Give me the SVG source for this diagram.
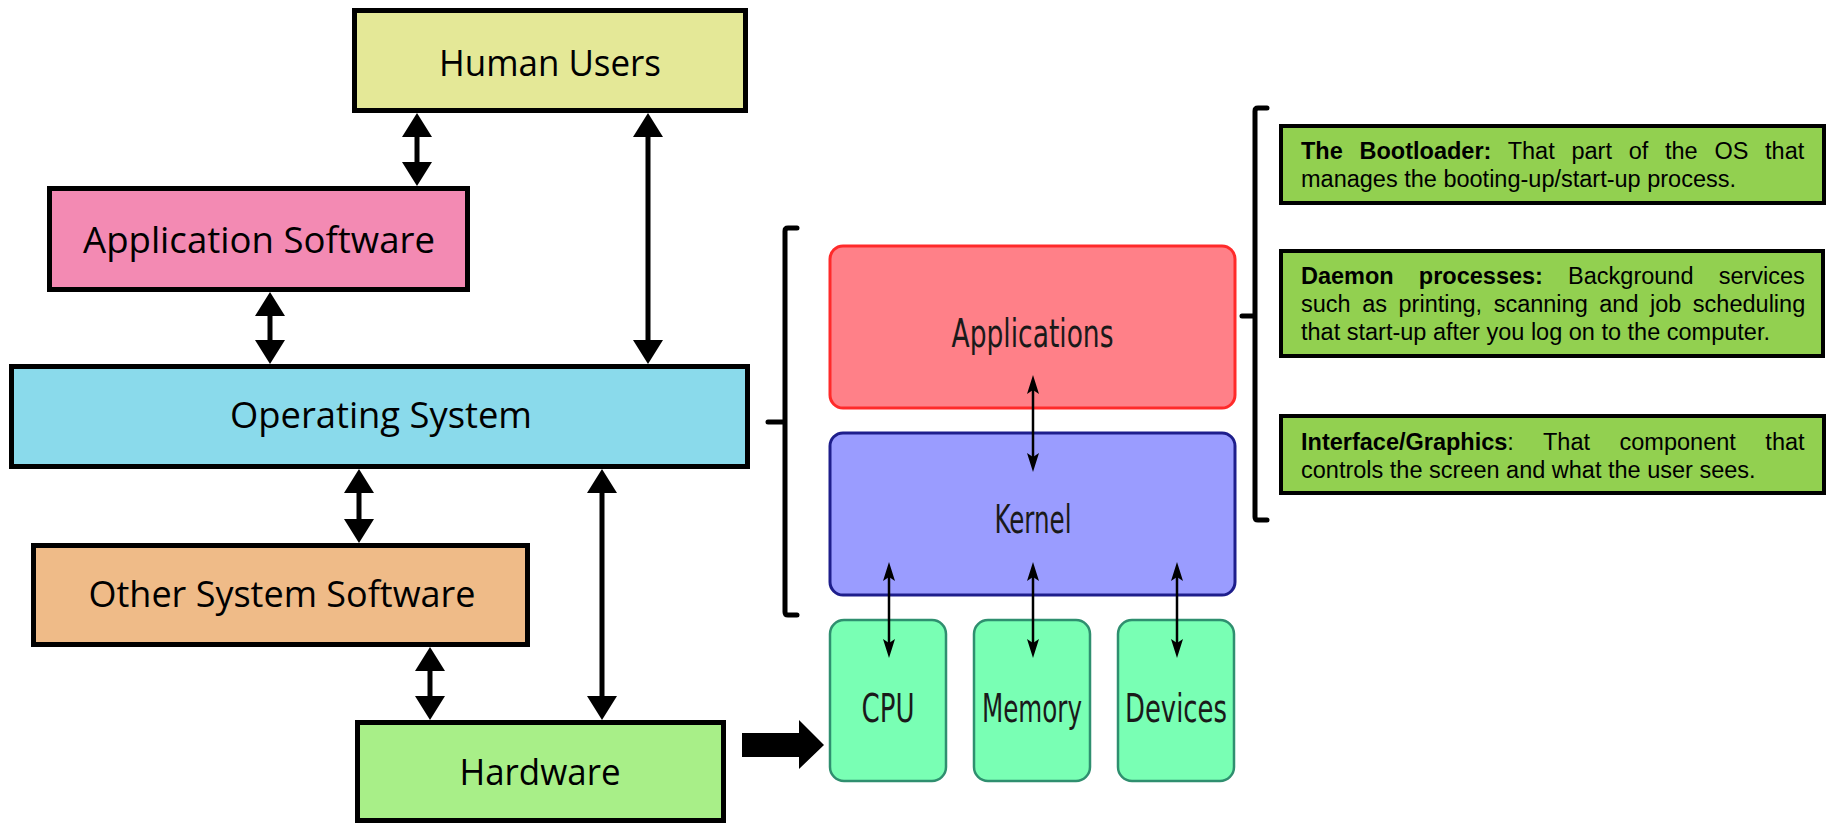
<svg xmlns="http://www.w3.org/2000/svg" width="1834" height="825" viewBox="0 0 1834 825">
  <style>
    .blk { stroke: #000; stroke-width: 5; }
    .lbl { font-family: "Open Sans", "Noto Sans", "Liberation Sans", sans-serif; font-size: 37px; fill: #000; text-anchor: middle; }
    .arrow { stroke: #000; stroke-width: 5; fill: none; marker-start: url(#headL); marker-end: url(#headL); }
    .thin { stroke: #000; stroke-width: 2.5; fill: none; marker-start: url(#headS); marker-end: url(#headS); }
    .layer { stroke-width: 3; }
    .lay { font-family: "DejaVu Sans Condensed", "DejaVu Sans", sans-serif; font-size: 39px; fill: #1a1a1a; text-anchor: middle; }
    .hw { fill: #79ffb4; stroke: #2f8f6f; stroke-width: 2.5; }
    .brace { stroke: #000; stroke-width: 5; fill: none; stroke-linecap: round; stroke-linejoin: round; }
    .note { fill: #92d050; stroke: #000; stroke-width: 4; }
    .nt { font-family: "Liberation Sans", Arial, sans-serif; font-size: 23.5px; fill: #000; }
    .b { font-weight: bold; }
  </style>
  <defs>
    <marker id="headL" viewBox="0 -15 24 30" refX="4" refY="0" markerWidth="24" markerHeight="30" markerUnits="userSpaceOnUse" orient="auto-start-reverse">
      <path d="M0,-15 L24,0 L0,15 z" fill="#000"/>
    </marker>
    <marker id="headS" viewBox="0 -6 19 12" refX="4" refY="0" markerWidth="19" markerHeight="12" markerUnits="userSpaceOnUse" orient="auto-start-reverse">
      <path d="M0,-6 L19,0 L0,6 L4,0 z" fill="#000"/>
    </marker>
  </defs>

  <!-- layered system view -->
  <g id="human-users">
    <rect class="blk" x="354.5" y="10.5" width="391" height="100" fill="#e4e897"/>
    <text class="lbl" x="550" y="76" textLength="222" lengthAdjust="spacingAndGlyphs">Human Users</text>
  </g>
  <g id="application-software">
    <rect class="blk" x="49.5" y="188.5" width="418" height="101" fill="#f38ab3"/>
    <text class="lbl" x="259" y="253" textLength="352" lengthAdjust="spacingAndGlyphs">Application Software</text>
  </g>
  <g id="operating-system">
    <rect class="blk" x="11.5" y="366.5" width="736" height="100" fill="#8adaeb"/>
    <text class="lbl" x="381" y="428" textLength="302" lengthAdjust="spacingAndGlyphs">Operating System</text>
  </g>
  <g id="other-system-software">
    <rect class="blk" x="33.5" y="545.5" width="494" height="99" fill="#efbb88"/>
    <text class="lbl" x="282" y="607" textLength="387" lengthAdjust="spacingAndGlyphs">Other System Software</text>
  </g>
  <g id="hardware">
    <rect class="blk" x="357.5" y="722.5" width="366" height="98" fill="#a8ef88"/>
    <text class="lbl" x="540" y="785" textLength="161" lengthAdjust="spacingAndGlyphs">Hardware</text>
  </g>

  <!-- component stack -->
  <g id="brace-left">
    <path class="brace" d="M797,228 L788,228 Q785,228 785,231 L785,612 Q785,615 788,615 L797,615 M768,422 L785,422"/>
  </g>
  <g id="applications">
    <rect class="layer" x="830" y="246" width="405" height="162" rx="13" fill="#ff8088" stroke="#ff2a2a"/>
    <text class="lay" x="1032.5" y="347" textLength="162" lengthAdjust="spacingAndGlyphs">Applications</text>
  </g>
  <g id="kernel">
    <rect class="layer" x="830" y="433" width="405" height="162" rx="13" fill="#9a9cff" stroke="#1e1e8c"/>
    <text class="lay" x="1033" y="533" textLength="77" lengthAdjust="spacingAndGlyphs">Kernel</text>
  </g>
  <g id="cpu">
    <rect class="hw" x="830" y="620" width="116" height="161" rx="14"/>
    <text class="lay" x="888" y="722" textLength="53" lengthAdjust="spacingAndGlyphs">CPU</text>
  </g>
  <g id="memory">
    <rect class="hw" x="974" y="620" width="116" height="161" rx="14"/>
    <text class="lay" x="1032" y="722" textLength="100" lengthAdjust="spacingAndGlyphs">Memory</text>
  </g>
  <g id="devices">
    <rect class="hw" x="1118" y="620" width="116" height="161" rx="14"/>
    <text class="lay" x="1176" y="722" textLength="102" lengthAdjust="spacingAndGlyphs">Devices</text>
  </g>

  <!-- notes on the upper layers -->
  <g id="brace-right">
    <path class="brace" d="M1267,108 L1258,108 Q1255,108 1255,111 L1255,517 Q1255,520 1258,520 L1267,520 M1242,316 L1255,316"/>
  </g>
  <g id="note-bootloader">
    <rect class="note" x="1281" y="126" width="543" height="77"/>
    <text class="nt" x="1301" y="159" style="word-spacing:10.2px"><tspan class="b">The Bootloader:</tspan> That part of the OS that</text>
    <text class="nt" x="1301" y="187">manages the booting-up/start-up process.</text>
  </g>
  <g id="note-daemons">
    <rect class="note" x="1281" y="251" width="542" height="105"/>
    <text class="nt" x="1301" y="284" style="word-spacing:18.6px"><tspan class="b">Daemon processes:</tspan> Background services</text>
    <text class="nt" x="1301" y="312" style="word-spacing:5px">such as printing, scanning and job scheduling</text>
    <text class="nt" x="1301" y="340">that start-up after you log on to the computer.</text>
  </g>
  <g id="note-interface">
    <rect class="note" x="1281" y="416" width="543" height="77"/>
    <text class="nt" x="1301" y="450" style="word-spacing:23px"><tspan class="b">Interface/Graphics</tspan>: That component that</text>
    <text class="nt" x="1301" y="478">controls the screen and what the user sees.</text>
  </g>

  <!-- connectors drawn last so they sit over the layer boxes -->
  <g id="connectors">
    <line class="arrow" x1="417" y1="133" x2="417" y2="166"/>
    <line class="arrow" x1="648" y1="133" x2="648" y2="344"/>
    <line class="arrow" x1="270" y1="312" x2="270" y2="344"/>
    <line class="arrow" x1="359" y1="489" x2="359" y2="523"/>
    <line class="arrow" x1="602" y1="489" x2="602" y2="700"/>
    <line class="arrow" x1="430" y1="667" x2="430" y2="700"/>
    <!-- hardware expands into the component view -->
    <polygon points="742,733 799,733 799,720 824,745 799,769 799,757 742,757" fill="#000"/>
    <line class="thin" x1="1033" y1="390" x2="1033" y2="457"/>
    <line class="thin" x1="889" y1="577" x2="889" y2="643"/>
    <line class="thin" x1="1033" y1="577" x2="1033" y2="643"/>
    <line class="thin" x1="1177" y1="577" x2="1177" y2="643"/>
  </g>
</svg>
